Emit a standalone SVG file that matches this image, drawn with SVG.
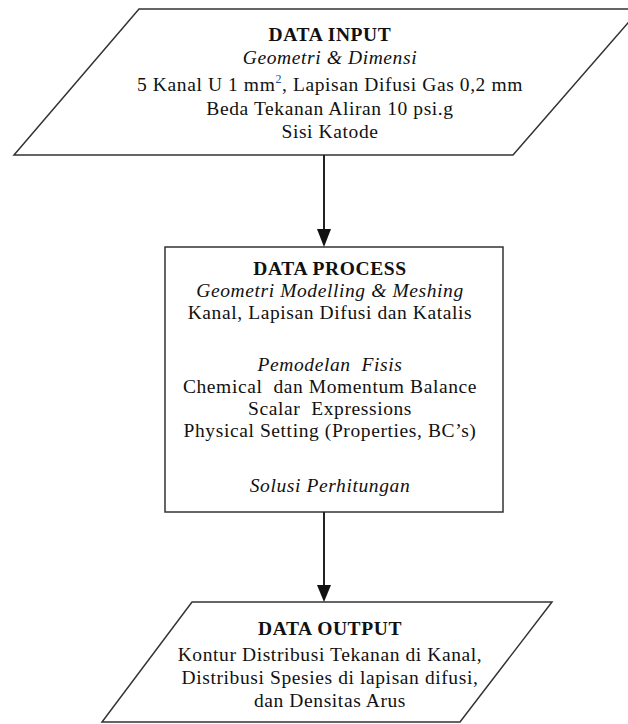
<svg xmlns="http://www.w3.org/2000/svg" width="628" height="724" viewBox="0 0 628 724">
<style>
.shape{fill:#fff;stroke:#333;stroke-width:1.5}
.t{font-family:"Liberation Serif","Times New Roman",serif;font-size:19.5px;letter-spacing:0.6px;fill:#111;text-anchor:middle;white-space:pre}
.b{font-weight:bold}
.i{font-style:italic}
.conn{stroke:#222;stroke-width:2;fill:none}
.head{fill:#111}
</style>
<rect width="628" height="724" fill="#fff"/>
<g id="input">
<polygon class="shape" points="139,9 640,9 513,155 14,155"/>
<text class="t b" x="330" y="41">DATA INPUT</text>
<text class="t i" x="330" y="64">Geometri &amp; Dimensi</text>
<text class="t" x="330" y="91">5 Kanal U 1 mm<tspan font-size="12" dy="-8" fill="#2a4a8a">2</tspan><tspan dy="8">, Lapisan Difusi Gas 0,2 mm</tspan></text>
<text class="t" x="330" y="115">Beda Tekanan Aliran 10 psi.g</text>
<text class="t" x="330" y="138">Sisi Katode</text>
</g>
<g id="process">
<rect class="shape" x="165" y="247" width="338" height="265"/>
<text class="t b" x="330" y="275">DATA PROCESS</text>
<text class="t i" x="330" y="297">Geometri Modelling &amp; Meshing</text>
<text class="t" x="330" y="319">Kanal, Lapisan Difusi dan Katalis</text>
<text class="t i" x="330" y="371">Pemodelan  Fisis</text>
<text class="t" x="330" y="393">Chemical  dan Momentum Balance</text>
<text class="t" x="330" y="415">Scalar  Expressions</text>
<text class="t" x="330" y="437">Physical Setting (Properties, BC’s)</text>
<text class="t i" x="330" y="492">Solusi Perhitungan</text>
</g>
<g id="output">
<polygon class="shape" points="192,602 552,602 460,722 102,722"/>
<text class="t b" x="330" y="635">DATA OUTPUT</text>
<text class="t" x="330" y="661">Kontur Distribusi Tekanan di Kanal,</text>
<text class="t" x="330" y="684">Distribusi Spesies di lapisan difusi,</text>
<text class="t" x="330" y="707">dan Densitas Arus</text>
</g>
<g id="connectors">
<line class="conn" x1="324" y1="155" x2="324" y2="230"/>
<path class="head" d="M317,229 L331,229 L324,247 Z"/>
<line class="conn" x1="324" y1="512" x2="324" y2="586"/>
<path class="head" d="M317,585 L331,585 L324,602 Z"/>
</g>
</svg>
